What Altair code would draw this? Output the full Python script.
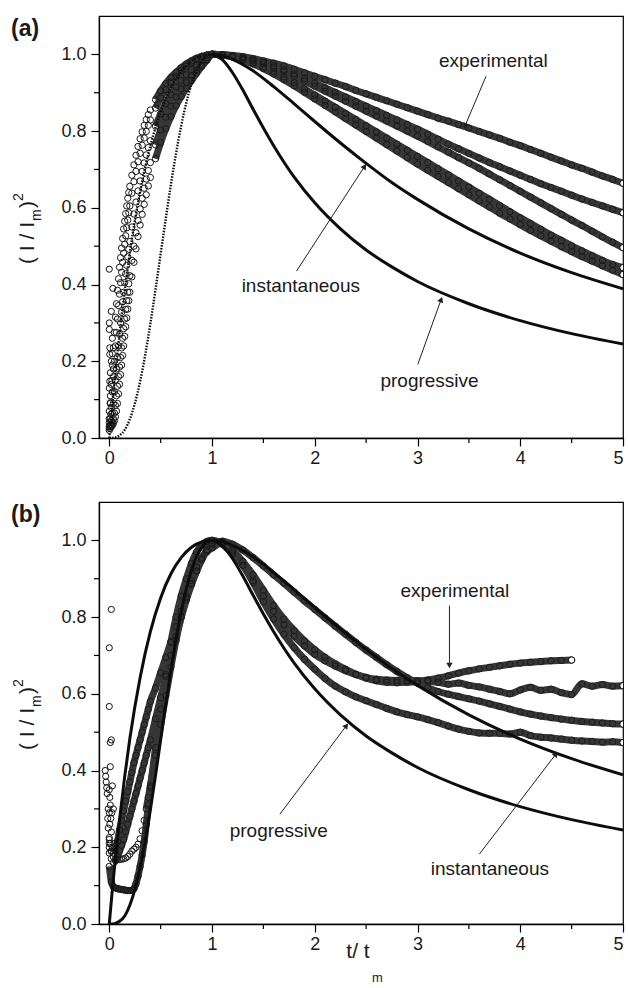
import math
import altair as alt
import pandas as pd

# ---------------- theoretical curves ----------------
INST_T = [0.0, 0.025, 0.05, 0.1, 0.15, 0.2, 0.3, 0.4, 0.5, 0.6, 0.7, 0.8, 0.9, 1.0,
          1.1, 1.2, 1.4, 1.6, 1.8, 2.0, 2.25, 2.5, 2.75, 3.0, 3.5, 4.0, 4.5, 5.0]
INST_Y = [0.0, 0.075, 0.145, 0.272, 0.384, 0.483, 0.642, 0.762, 0.850, 0.913, 0.955, 0.982, 0.996, 1.0,
          0.997, 0.987, 0.957, 0.916, 0.871, 0.825, 0.769, 0.716, 0.666, 0.622, 0.545, 0.482, 0.431, 0.389]
PROG_T = [0.0, 0.05, 0.1, 0.15, 0.2, 0.25, 0.3, 0.35, 0.4, 0.45, 0.5, 0.55, 0.6, 0.65, 0.7, 0.75, 0.8, 0.85,
          0.9, 0.95, 1.0, 1.1, 1.2, 1.3, 1.4, 1.5, 1.6, 1.8, 2.0, 2.25, 2.5, 2.75, 3.0, 3.5, 4.0, 4.5, 5.0]
PROG_Y = [0.0, 0.001, 0.007, 0.021, 0.049, 0.091, 0.147, 0.217, 0.298, 0.387, 0.480, 0.572, 0.661, 0.742,
          0.814, 0.874, 0.922, 0.958, 0.982, 0.996, 1.0, 0.986, 0.952, 0.907, 0.857, 0.808, 0.762, 0.680,
          0.613, 0.545, 0.490, 0.446, 0.408, 0.350, 0.306, 0.272, 0.245]

# ---------------- sampling positions of the experimental records ----------------
T_RISE_A = [0.00, 0.01, 0.02, 0.03, 0.04, 0.05, 0.06, 0.07, 0.08, 0.09, 0.10, 0.11, 0.12, 0.13, 0.14,
            0.15, 0.16, 0.17, 0.18, 0.19, 0.20, 0.22, 0.24, 0.26, 0.28, 0.30, 0.32, 0.34, 0.36, 0.38,
            0.40, 0.45, 0.50, 0.55, 0.60, 0.65, 0.70, 0.75, 0.80, 0.85, 0.90, 0.95, 1.00]
T_RISE_B = [0.00, 0.02, 0.04, 0.06, 0.08, 0.10, 0.12, 0.14, 0.16, 0.18, 0.20, 0.22, 0.24, 0.26, 0.28,
            0.30, 0.32, 0.34, 0.36, 0.38, 0.40, 0.45, 0.50, 0.55, 0.60, 0.65, 0.70, 0.75, 0.80, 0.85,
            0.90, 0.95, 1.00]
T_DECAY = [1.1, 1.2, 1.3, 1.4, 1.5, 1.6, 1.7, 1.8, 1.9, 2.0, 2.1, 2.2, 2.3, 2.4, 2.5, 2.6, 2.7, 2.8,
           2.9, 3.0, 3.1, 3.2, 3.3, 3.4, 3.5, 3.6, 3.7, 3.8, 3.9, 4.0, 4.1, 4.2, 4.3, 4.4, 4.5, 4.6,
           4.7, 4.8, 4.9, 5.0]

# ---------------- panel (a): experimental records ----------------
A1_RISE = [0.05, 0.09, 0.14, 0.19, 0.235, 0.275, 0.315, 0.35, 0.385, 0.415, 0.445, 0.47, 0.495, 0.52,
           0.545, 0.565, 0.585, 0.605, 0.625, 0.64, 0.656, 0.685, 0.712, 0.737, 0.76, 0.78, 0.798,
           0.815, 0.83, 0.843, 0.855, 0.882, 0.905, 0.924, 0.94, 0.953, 0.965, 0.975, 0.983, 0.99,
           0.995, 0.998, 1.0]
A2_RISE = [0.03, 0.05, 0.08, 0.12, 0.16, 0.2, 0.24, 0.275, 0.31, 0.345, 0.375, 0.405, 0.432, 0.458,
           0.482, 0.505, 0.527, 0.548, 0.568, 0.587, 0.605, 0.638, 0.668, 0.695, 0.72, 0.742, 0.763,
           0.782, 0.799, 0.815, 0.829, 0.86, 0.886, 0.908, 0.927, 0.943, 0.957, 0.969, 0.979, 0.987,
           0.993, 0.998, 1.0]
A3_RISE = [0.02, 0.03, 0.045, 0.065, 0.09, 0.12, 0.15, 0.18, 0.21, 0.24, 0.27, 0.3, 0.328, 0.355,
           0.38, 0.405, 0.428, 0.45, 0.472, 0.492, 0.512, 0.55, 0.584, 0.615, 0.644, 0.67, 0.695,
           0.717, 0.738, 0.757, 0.775, 0.813, 0.845, 0.872, 0.895, 0.915, 0.932, 0.947, 0.96, 0.972,
           0.983, 0.992, 1.0]
A4_RISE = [0.04, 0.035, 0.035, 0.04, 0.05, 0.065, 0.085, 0.11, 0.135, 0.16, 0.185, 0.21, 0.235, 0.26,
           0.285, 0.31, 0.335, 0.358, 0.38, 0.402, 0.423, 0.463, 0.5, 0.535, 0.567, 0.597, 0.625,
           0.651, 0.675, 0.697, 0.718, 0.764, 0.803, 0.836, 0.865, 0.889, 0.91, 0.928, 0.944, 0.958,
           0.972, 0.986, 1.0]
A5_RISE = [0.025, 0.025, 0.03, 0.033, 0.038, 0.045, 0.055, 0.07, 0.09, 0.115, 0.14, 0.165, 0.19, 0.215,
           0.24, 0.265, 0.29, 0.313, 0.336, 0.358, 0.38, 0.42, 0.458, 0.493, 0.525, 0.555, 0.583,
           0.609, 0.634, 0.657, 0.679, 0.728, 0.77, 0.806, 0.838, 0.866, 0.89, 0.912, 0.932, 0.951,
           0.969, 0.985, 1.0]
A1_DECAY = [0.999, 0.997, 0.994, 0.989, 0.983, 0.977, 0.970, 0.961, 0.952, 0.943, 0.934, 0.925, 0.916,
            0.906, 0.897, 0.888, 0.879, 0.870, 0.861, 0.852, 0.843, 0.834, 0.826, 0.817, 0.808, 0.799,
            0.790, 0.781, 0.771, 0.762, 0.752, 0.742, 0.732, 0.722, 0.712, 0.703, 0.693, 0.683, 0.674,
            0.664]
A2_DECAY = [0.999, 0.996, 0.991, 0.985, 0.978, 0.970, 0.960, 0.949, 0.937, 0.925, 0.913, 0.901, 0.889,
            0.877, 0.865, 0.853, 0.841, 0.829, 0.817, 0.805, 0.792, 0.779, 0.766, 0.754, 0.742, 0.730,
            0.718, 0.707, 0.696, 0.685, 0.674, 0.663, 0.653, 0.643, 0.633, 0.623, 0.614, 0.605, 0.596,
            0.587]
A3_DECAY = [0.999, 0.996, 0.990, 0.983, 0.975, 0.966, 0.955, 0.943, 0.930, 0.917, 0.904, 0.891, 0.878,
            0.865, 0.852, 0.839, 0.826, 0.813, 0.800, 0.787, 0.773, 0.759, 0.745, 0.731, 0.717, 0.703,
            0.688, 0.673, 0.658, 0.643, 0.628, 0.613, 0.598, 0.583, 0.568, 0.554, 0.539, 0.524, 0.510,
            0.496]
A4_DECAY = [0.998, 0.994, 0.987, 0.978, 0.967, 0.955, 0.941, 0.926, 0.910, 0.894, 0.878, 0.862, 0.846,
            0.830, 0.814, 0.798, 0.782, 0.766, 0.750, 0.734, 0.718, 0.702, 0.686, 0.670, 0.654, 0.638,
            0.622, 0.606, 0.590, 0.574, 0.559, 0.544, 0.529, 0.515, 0.501, 0.488, 0.475, 0.463, 0.452,
            0.444]
A5_DECAY = [0.998, 0.993, 0.985, 0.975, 0.963, 0.949, 0.934, 0.918, 0.901, 0.884, 0.867, 0.850, 0.833,
            0.816, 0.799, 0.782, 0.765, 0.748, 0.731, 0.714, 0.698, 0.682, 0.666, 0.650, 0.634, 0.618,
            0.602, 0.586, 0.571, 0.556, 0.541, 0.527, 0.513, 0.499, 0.486, 0.473, 0.461, 0.449, 0.437,
            0.426]
NOISE_A_T = [0.0, 0.0, 0.0, 0.005, 0.005, 0.005, 0.0, 0.01, 0.015, 0.02, 0.01, 0.02, 0.03, 0.025, 0.01,
             0.0, 0.02, 0.03, 0.04, 0.035]
NOISE_A_Y = [0.44, 0.30, 0.283, 0.235, 0.218, 0.148, 0.13, 0.092, 0.062, 0.045, 0.17, 0.2, 0.26, 0.15,
             0.11, 0.07, 0.33, 0.22, 0.18, 0.39]

# ---------------- panel (b): experimental records ----------------
B1_RISE = [0.2, 0.17, 0.16, 0.165, 0.175, 0.19, 0.205, 0.22, 0.24, 0.26, 0.28, 0.3, 0.32, 0.34, 0.36,
           0.38, 0.4, 0.42, 0.44, 0.46, 0.48, 0.535, 0.59, 0.645, 0.7, 0.75, 0.8, 0.845, 0.885, 0.92,
           0.95, 0.975, 0.99]
B2_RISE = [0.22, 0.19, 0.175, 0.17, 0.168, 0.168, 0.169, 0.17, 0.172, 0.176, 0.182, 0.19, 0.195, 0.2,
           0.208, 0.222, 0.243, 0.27, 0.3, 0.33, 0.36, 0.44, 0.52, 0.595, 0.67, 0.74, 0.8, 0.85, 0.895,
           0.93, 0.955, 0.97, 0.98]
B3_RISE = [0.21, 0.19, 0.185, 0.19, 0.215, 0.245, 0.27, 0.295, 0.32, 0.345, 0.37, 0.395, 0.42, 0.44,
           0.46, 0.48, 0.5, 0.52, 0.54, 0.56, 0.58, 0.615, 0.655, 0.695, 0.735, 0.775, 0.815, 0.853,
           0.888, 0.92, 0.95, 0.975, 0.992]
B4_RISE = [0.15, 0.11, 0.097, 0.094, 0.092, 0.091, 0.09, 0.089, 0.088, 0.087, 0.087, 0.088, 0.092, 0.105,
           0.125, 0.15, 0.18, 0.215, 0.26, 0.31, 0.355, 0.46, 0.56, 0.65, 0.735, 0.8, 0.855, 0.9, 0.94,
           0.97, 0.988, 0.997, 1.0]
B1_DECAY = [0.995, 0.975, 0.945, 0.91, 0.87, 0.83, 0.795, 0.765, 0.738, 0.715, 0.695, 0.678, 0.664,
            0.651, 0.641, 0.634, 0.63, 0.629, 0.63, 0.632, 0.636, 0.641, 0.647, 0.654, 0.66, 0.665,
            0.669, 0.673, 0.677, 0.68, 0.682, 0.684, 0.686, 0.687, 0.688]
B2_DECAY = [0.993, 0.97, 0.935, 0.895, 0.855, 0.815, 0.78, 0.75, 0.725, 0.703, 0.686, 0.672, 0.66, 0.65,
            0.643, 0.638, 0.636, 0.635, 0.635, 0.634, 0.633, 0.63, 0.625, 0.628, 0.622, 0.618, 0.612,
            0.606, 0.6, 0.61, 0.617, 0.609, 0.612, 0.603, 0.598, 0.626, 0.62, 0.624, 0.62, 0.621]
B3_DECAY = [0.998, 0.99, 0.975, 0.955, 0.933, 0.91, 0.888, 0.865, 0.842, 0.82, 0.798, 0.776, 0.755,
            0.734, 0.714, 0.695, 0.676, 0.658, 0.642, 0.628, 0.616, 0.606, 0.599, 0.593, 0.587, 0.581,
            0.574, 0.567, 0.56, 0.553, 0.547, 0.542, 0.538, 0.534, 0.531, 0.528, 0.526, 0.524, 0.522,
            0.521]
B4_DECAY = [0.99, 0.965, 0.935, 0.89, 0.84, 0.795, 0.755, 0.72, 0.69, 0.664, 0.64, 0.62, 0.605, 0.592,
            0.582, 0.572, 0.562, 0.553, 0.546, 0.54, 0.533, 0.525, 0.516, 0.508, 0.502, 0.498, 0.497,
            0.497, 0.495, 0.5, 0.491, 0.487, 0.485, 0.482, 0.479, 0.477, 0.476, 0.474, 0.475, 0.473]
NOISE_B_T = [0.02, 0.0, 0.0, 0.02, 0.01, 0.01, -0.04, -0.035, -0.03, -0.025, -0.02, 0.0, 0.005, 0.01,
             -0.01, 0.0, 0.015, 0.005, -0.01, 0.03, 0.04, 0.02, 0.0, 0.01, 0.02, 0.03, 0.05, -0.015,
             0.025, 0.0]
NOISE_B_Y = [0.82, 0.72, 0.567, 0.48, 0.473, 0.41, 0.40, 0.385, 0.37, 0.355, 0.34, 0.35, 0.33, 0.31,
             0.30, 0.29, 0.275, 0.26, 0.25, 0.36, 0.30, 0.24, 0.225, 0.21, 0.19, 0.20, 0.21, 0.275,
             0.29, 0.185]

# ---------------- layout / style constants ----------------
W, H = 524, 422
XDOM = [-0.1, 5.0]
YDOM = [0.0, 1.1]
FONT = "Liberation Sans"
INK = "#1a1a1a"
MINOR_X = [0.5, 1.5, 2.5, 3.5, 4.5]
MINOR_Y = [0.1, 0.3, 0.5, 0.7, 0.9]

XS = alt.Scale(domain=XDOM, nice=False, zero=False)
YS = alt.Scale(domain=YDOM, nice=False, zero=False)
XAX = alt.Axis(values=[0, 1, 2, 3, 4, 5], format="d", tickSize=8, labelPadding=3, grid=False, title=None)
YAX = alt.Axis(values=[0, 0.2, 0.4, 0.6, 0.8, 1.0], format=".1f", tickSize=8, labelPadding=5,
               grid=False, title=None)


def X(f="t"):
    return alt.X(f"{f}:Q", scale=XS, axis=XAX)


def Y(f="y"):
    return alt.Y(f"{f}:Q", scale=YS, axis=YAX)


def exp_frame(items):
    rows = []
    for name, t_r, y_r, y_d, band_from in items:
        for t, y in list(zip(t_r, y_r)) + list(zip(T_DECAY, y_d)):
            rows.append({"series": name, "t": t, "y": y, "band": 1 if t >= band_from else 0})
    return pd.DataFrame(rows)


def theory_frame():
    rows = [{"curve": "inst", "t": t, "y": y} for t, y in zip(INST_T, INST_Y)]
    rows += [{"curve": "prog", "t": t, "y": y} for t, y in zip(PROG_T, PROG_Y)]
    return pd.DataFrame(rows)


PXU = W / (XDOM[1] - XDOM[0])
PYU = H / (YDOM[1] - YDOM[0])


def arrow_frame(items):
    rows = []
    for t1, y1, t2, y2 in items:
        dx = (t2 - t1) * PXU
        dy = -(y2 - y1) * PYU
        ang = math.degrees(math.atan2(dx, -dy)) % 360
        rows.append({"t": t1, "y": y1, "t2": t2, "y2": y2, "ang": ang})
    return pd.DataFrame(rows)


ONE = pd.DataFrame({"k": [0]})


def ptext(text, x, y, size, angle=None, align="left", weight="normal"):
    kw = dict(text=text, font=FONT, fontSize=size, color=INK, align=align,
              baseline="alphabetic", fontWeight=weight)
    if angle is not None:
        kw["angle"] = angle
    return alt.Chart(ONE).mark_text(**kw).encode(x=alt.value(x), y=alt.value(y))


def panel(exp_df, noise_t, noise_y, dotted_rise, notes, arrows, letter, with_xtitle):
    base = alt.Chart(exp_df)
    band = base.transform_filter("datum.band == 1").mark_line(
        color="#363636", strokeWidth=7, interpolate="monotone", clip=True
    ).encode(x=X(), y=Y(), detail="series:N", order="t:Q")
    rings = base.mark_point(shape="circle", filled=False, size=40, color="#1a1a1a",
                            strokeWidth=1, opacity=1, clip=True).encode(x=X(), y=Y())
    ends = base.transform_joinaggregate(tmax="max(t)", groupby=["series"]).transform_filter(
        "datum.t == datum.tmax"
    ).mark_point(shape="circle", filled=True, fill="white", stroke="#111", strokeWidth=1,
                 size=40, opacity=1, clip=True).encode(x=X(), y=Y())
    noise = alt.Chart(pd.DataFrame({"t": noise_t, "y": noise_y})).mark_point(
        shape="circle", filled=False, size=38, color="#111", strokeWidth=1, opacity=1, clip=True
    ).encode(x=X(), y=Y())

    th = alt.Chart(theory_frame())
    th_decay = th.transform_filter("datum.t >= 1").mark_line(
        color="#0d0d0d", strokeWidth=3, interpolate="monotone", clip=True
    ).encode(x=X(), y=Y(), detail="curve:N")
    if dotted_rise:
        th_rise = th.transform_filter("datum.t <= 1").mark_line(
            color="#0d0d0d", strokeWidth=2.4, strokeDash=[1.5, 1.4], interpolate="monotone", clip=True
        ).encode(x=X(), y=Y(), detail="curve:N")
    else:
        th_rise = th.transform_filter("datum.t <= 1").mark_line(
            color="#0d0d0d", strokeWidth=3, interpolate="monotone", clip=True
        ).encode(x=X(), y=Y(), detail="curve:N")

    minor_y = alt.Chart(pd.DataFrame({"y": MINOR_Y})).mark_rule(color="black", strokeWidth=1.2).encode(
        y=Y(), x=alt.value(0), x2=alt.value(-5))
    minor_x = alt.Chart(pd.DataFrame({"t": MINOR_X})).mark_rule(color="black", strokeWidth=1.2).encode(
        x=X(), y=alt.value(H), y2=alt.value(H + 5))

    note_df = pd.DataFrame(notes, columns=["label", "t", "y"])
    note_layer = alt.Chart(note_df).mark_text(font=FONT, fontSize=19, color=INK, align="center",
                                              baseline="middle").encode(x=X(), y=Y(), text="label:N")
    arr = arrow_frame(arrows)
    shafts = alt.Chart(arr).mark_rule(color="#222", strokeWidth=1).encode(
        x=X(), y=Y(), x2="t2:Q", y2="y2:Q")
    heads = alt.Chart(arr).mark_point(shape="triangle-up", filled=True, color="#222", size=40,
                                      opacity=1).encode(
        x=X("t2"), y=Y("y2"), angle=alt.Angle("ang:Q", scale=None))

    layers = [band, rings, noise, ends, th_rise, th_decay, minor_y, minor_x,
              note_layer, shafts, heads,
              ptext(letter, -88, 20, 23, weight="bold"),
              ptext("( I / I", -65, 248, 21, angle=270),
              ptext("m", -58, 205, 14, angle=270),
              ptext(")", -65, 192, 21, angle=270),
              ptext("2", -76, 185, 14, angle=270)]
    if with_xtitle:
        layers += [ptext("t/ t", 259, 456, 21, align="center"),
                   ptext("m", 273, 480, 13)]
    return alt.layer(*layers).properties(width=W, height=H)


exp_a = exp_frame([
    ("a1", T_RISE_A, A1_RISE, A1_DECAY, 0.45),
    ("a2", T_RISE_A, A2_RISE, A2_DECAY, 0.45),
    ("a3", T_RISE_A, A3_RISE, A3_DECAY, 0.45),
    ("a4", T_RISE_A, A4_RISE, A4_DECAY, 0.45),
    ("a5", T_RISE_A, A5_RISE, A5_DECAY, 0.45),
])
exp_b = exp_frame([
    ("b1", T_RISE_B, B1_RISE, B1_DECAY, 0.04),
    ("b2", T_RISE_B, B2_RISE, B2_DECAY, 0.36),
    ("b3", T_RISE_B, B3_RISE, B3_DECAY, 0.04),
    ("b4", T_RISE_B, B4_RISE, B4_DECAY, 0.0),
])

NOTES_A = [("experimental", 3.738, 0.982), ("instantaneous", 1.864, 0.396), ("progressive", 3.117, 0.148)]
ARROWS_A = [(3.667, 0.943, 3.463, 0.814), (1.822, 0.435, 2.485, 0.708), (3.003, 0.192, 3.23, 0.361)]
NOTES_B = [("experimental", 3.364, 0.869), ("progressive", 1.650, 0.243), ("instantaneous", 3.704, 0.144)]
ARROWS_B = [(3.311, 0.830, 3.311, 0.674), (1.66, 0.286, 2.308, 0.517), (3.602, 0.182, 4.347, 0.443)]

panel_a = panel(exp_a, NOISE_A_T, NOISE_A_Y, True, NOTES_A, ARROWS_A, "(a)", False)
panel_b = panel(exp_b, NOISE_B_T, NOISE_B_Y, False, NOTES_B, ARROWS_B, "(b)", True)

chart = alt.vconcat(panel_a, panel_b, spacing=33).properties(
    padding={"left": 10, "top": 15, "right": 0, "bottom": 0},
    background="white",
).configure_view(stroke="black", strokeWidth=1.2).configure_axis(
    domainColor="black", domainWidth=1.3, tickColor="black", tickWidth=1.2,
    labelColor=INK, labelFont=FONT, labelFontSize=18,
)

chart.save("out.html", embed_options={"renderer": "svg", "actions": False})
